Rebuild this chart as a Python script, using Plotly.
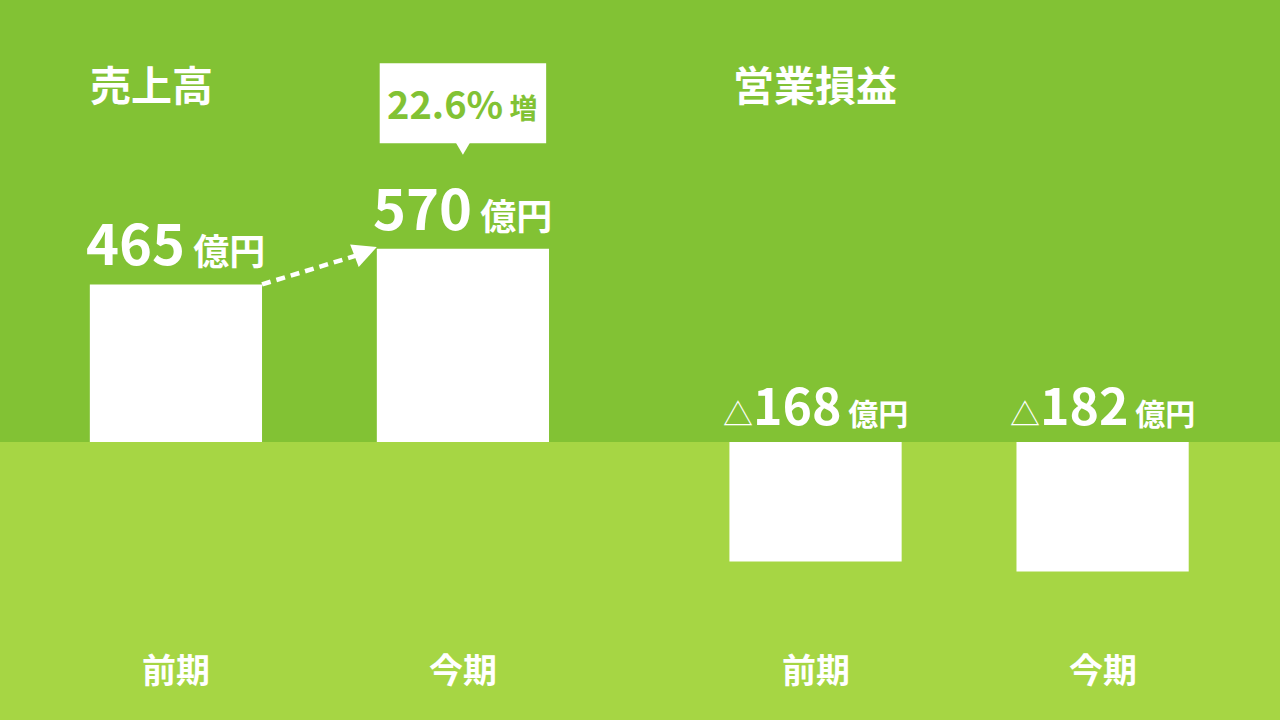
import plotly.graph_objects as go

# 売上高 / 営業損益 (億円)
periods = ["前期", "今期"]
sales = [465, 570]
op_income = [-168, -182]

dark = "#82C234"
light = "#A6D644"
font = "Noto Sans CJK JP"

fig = go.Figure()

fig.add_trace(go.Bar(x=[0, 1], y=sales, width=0.6, marker_color="white",
                     marker_line_width=0, xaxis="x", yaxis="y", hoverinfo="skip"))
fig.add_trace(go.Bar(x=[0, 1], y=op_income, width=0.6, marker_color="white",
                     marker_line_width=0, xaxis="x2", yaxis="y2", hoverinfo="skip"))

# dotted arrow between sales bars
fig.add_trace(go.Scatter(x=[0.3, 0.64], y=[sales[0], sales[0] + (sales[1] - sales[0]) * 0.84],
                         mode="lines", line=dict(color="white", width=4.5, dash="9px,6px"),
                         xaxis="x", yaxis="y", hoverinfo="skip"))
fig.add_annotation(x=0.7, y=sales[1] + 5, ax=0.62, ay=sales[0] + (sales[1] - sales[0]) * 0.80,
                   xref="x", yref="y", axref="x", ayref="y", text="", showarrow=True,
                   arrowhead=2, arrowsize=1.2, arrowwidth=4, arrowcolor="white")


def value_label(v, neg=False):
    tri = '<span style="font-size:30px;font-weight:normal">△</span>' if neg else ""
    size = 50 if neg else 56
    usize = 30 if neg else 36
    return (tri + f'<b><span style="font-size:{size}px">{abs(v)}</span> '
            f'<span style="font-size:{usize}px">億円</span></b>')


for i, v in enumerate(sales):
    fig.add_annotation(x=i, y=v, xref="x", yref="y", text=value_label(v), showarrow=False,
                       yanchor="bottom", yshift=1, font=dict(family=font, color="white", size=36))
for i, v in enumerate(op_income):
    fig.add_annotation(x=i, y=0, xref="x2", yref="y2", text=value_label(v, True), showarrow=False,
                       yanchor="bottom", yshift=1, font=dict(family=font, color="white", size=30))

for ax in ["x", "x2"]:
    for i, p in enumerate(periods):
        fig.add_annotation(x=i, y=1 - 668 / 720, xref=ax, yref="paper", yanchor="middle",
                           text=f"<b>{p}</b>", showarrow=False,
                           font=dict(family=font, color="white", size=34))

fig.add_annotation(x=0.0, y=1 - 83 / 720, xref="paper", yref="paper", xanchor="left", yanchor="middle",
                   xshift=88, text="<b>売上高</b>", showarrow=False,
                   font=dict(family=font, color="white", size=41))
fig.add_annotation(x=0.5, y=1 - 83 / 720, xref="paper", yref="paper", xanchor="left", yanchor="middle",
                   xshift=91, text="<b>営業損益</b>", showarrow=False,
                   font=dict(family=font, color="white", size=41))

# growth callout
growth = (sales[1] / sales[0] - 1) * 100
fig.add_shape(type="rect", xref="x", yref="paper", x0=0.71, x1=1.29, y0=0.801, y1=0.912,
              fillcolor="white", line_width=0)
fig.add_shape(type="path", xref="x", yref="paper", path="M 0.975,0.802 L 1.025,0.802 L 1,0.785 Z",
              fillcolor="white", line_width=0)
fig.add_annotation(x=1, y=1 - 103 / 720, xref="x", yref="paper", yanchor="middle", showarrow=False,
                   text=f'<b><span style="font-size:38px">{growth:.1f}%</span> '
                        f'<span style="font-size:28px">増</span></b>',
                   font=dict(family=font, color=dark, size=28))

# lower background band
fig.add_shape(type="rect", xref="paper", yref="paper", x0=0, x1=1, y0=0, y1=1 - 442 / 720,
              fillcolor=light, line_width=0, layer="below")

hidden = dict(showgrid=False, zeroline=False, showticklabels=False, showline=False, fixedrange=True)
fig.update_layout(
    width=1280, height=720, margin=dict(l=0, r=0, t=0, b=0),
    paper_bgcolor=dark, plot_bgcolor="rgba(0,0,0,0)", showlegend=False,
    xaxis=dict(domain=[0, 0.5], range=[-0.613, 1.617], **hidden),
    xaxis2=dict(domain=[0.5, 1], range=[-0.6115, 1.618], **hidden),
    yaxis=dict(domain=[0, 1], range=[-820, 1304], anchor="x", **hidden),
    yaxis2=dict(domain=[0, 1], range=[-391, 621.7], anchor="x2", **hidden),
)

fig.write_html("out.html", config={"displayModeBar": False},
               post_script="document.body.style.margin='0';")
